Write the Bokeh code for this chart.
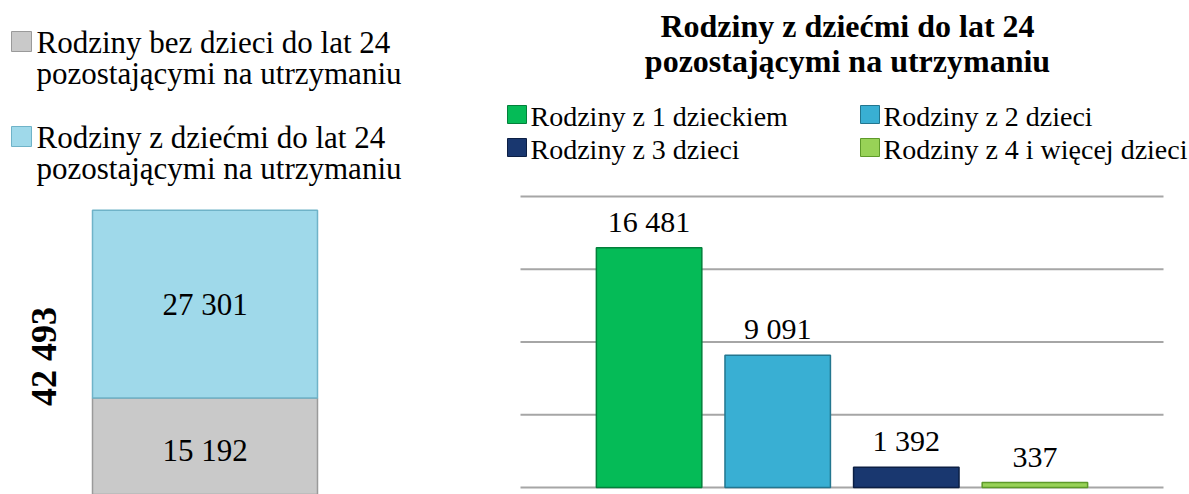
import math
from bokeh.plotting import figure
from bokeh.models import (ColumnDataSource, Range1d, LabelSet, Label,
                          BoxAnnotation)
from bokeh.layouts import row
from bokeh.embed import file_html
from bokeh.resources import INLINE

# ---------------- data ----------------
total_categories = ["Rodziny bez dzieci do lat 24\npozostającymi na utrzymaniu",
                    "Rodziny z dziećmi do lat 24\npozostającymi na utrzymaniu"]
total_values = [15192, 27301]
total_colors = ["#c9c9c9", "#9fd9ea"]
total_lines = ["#9a9a9a", "#6fb3c8"]

child_categories = ["Rodziny z 1 dzieckiem", "Rodziny z 2 dzieci",
                    "Rodziny z 3 dzieci", "Rodziny z 4 i więcej dzieci"]
child_values = [16481, 9091, 1392, 337]
child_colors = ["#05bb57", "#39afd3", "#19376f", "#98d257"]
child_lines = ["#03803b", "#23768f", "#0c1f44", "#5e9a2a"]

right_title = ["Rodziny z dziećmi do lat 24", "pozostającymi na utrzymaniu"]
grid_ticks = [0, 5000, 10000, 15000, 20000]


def fmt(v):
    return f"{v:,}".replace(",", " ")


FONT = "Liberation Serif"
W, H = 1189, 494


def text_center(baseline, size):
    # vertical centre of a text line whose alphabetic baseline is given
    return baseline - 0.3375 * size


def add_text(p, frame_left, x, baseline, text, size, align="left", bold=False):
    p.add_layout(Label(x=x - frame_left, y=H - text_center(baseline, size),
                       x_units="screen", y_units="screen", text=text,
                       text_align=align, text_baseline="middle",
                       text_font=FONT, text_font_size=f"{size}px",
                       text_font_style="bold" if bold else "normal",
                       text_color="black"))


def legend_entry(p, frame_left, sw_x, sw_y, sw_w, sw_h, color, line,
                 lines, text_x, base_y, line_gap, size):
    """Legend swatch + text; positions in page pixels (top-left origin)."""
    p.add_layout(BoxAnnotation(left=sw_x - frame_left, right=sw_x + sw_w - frame_left,
                               top=H - sw_y, bottom=H - sw_y - sw_h,
                               left_units="screen", right_units="screen",
                               top_units="screen", bottom_units="screen",
                               fill_color=color, fill_alpha=1.0,
                               line_color=line, line_alpha=1.0, line_width=1))
    for k, t in enumerate(lines):
        add_text(p, frame_left, text_x, base_y + k * line_gap, t, size)


# ---------------- left chart (stacked total) ----------------
LW = 470
bar_left_px, bar_right_px = 92, 317
bar_px = bar_right_px - bar_left_px
x0 = -0.5 - bar_left_px / bar_px
ppu_l = 187.7 / 27301.0
zero_l = 502.0

pl = figure(width=LW, height=H, output_backend="svg", toolbar_location=None,
            x_range=Range1d(x0, x0 + LW / bar_px),
            y_range=Range1d((zero_l - H) / ppu_l, zero_l / ppu_l),
            x_axis_location=None, y_axis_location=None,
            min_border=0, outline_line_color=None)
pl.grid.visible = False

bottoms, tops = [], []
acc = 0
for v in total_values:
    bottoms.append(acc)
    acc += v
    tops.append(acc)
total = acc

lsrc = ColumnDataSource(dict(x=[0] * len(total_values), bottom=bottoms, top=tops,
                             mid=[(b + t) / 2 for b, t in zip(bottoms, tops)],
                             txt=[fmt(v) for v in total_values],
                             color=total_colors, line=total_lines))
pl.vbar(x="x", width=1, bottom="bottom", top="top", source=lsrc,
        fill_color="color", line_color="line", line_width=1.5)

pl.add_layout(LabelSet(x="x", y="mid", text="txt", source=lsrc,
                       text_align="center", text_baseline="middle",
                       text_font=FONT, text_font_size="31px", text_color="black"))

pl.add_layout(Label(x=0, y=total / 2, x_offset=-161, text=fmt(total),
                    angle=math.pi / 2, text_align="center", text_baseline="middle",
                    text_font=FONT, text_font_size="36px", text_font_style="bold",
                    text_color="black"))

for i, cat in enumerate(total_categories):
    legend_entry(pl, 0, 11, 31 + i * 95, 20, 20, total_colors[i], total_lines[i],
                 cat.split("\n"), 36, 52 + i * 95, 31, 31)

# ---------------- right chart (children breakdown) ----------------
RW = W - LW
slot_px = (1163 - 520) / (len(child_values) + 1)
rx0 = -(520 - LW) / slot_px
zero_r = 487.0
ppu_r = (487.0 - 196.0) / 20000.0

pr = figure(width=RW, height=H, output_backend="svg", toolbar_location=None,
            x_range=Range1d(rx0, rx0 + RW / slot_px),
            y_range=Range1d(-(H - zero_r) / ppu_r, zero_r / ppu_r),
            x_axis_location=None, y_axis_location=None,
            min_border=0, outline_line_color=None)
pr.grid.visible = False

# horizontal gridlines across the category slots
gsrc = ColumnDataSource(dict(x0=[0] * len(grid_ticks),
                             x1=[len(child_values) + 1] * len(grid_ticks),
                             y=grid_ticks))
pr.segment(x0="x0", x1="x1", y0="y", y1="y", source=gsrc,
           line_color="#a6a6a6", line_width=2)

rsrc = ColumnDataSource(dict(x=[i + 1 for i in range(len(child_values))],
                             top=child_values, txt=[fmt(v) for v in child_values],
                             color=child_colors, line=child_lines))
pr.vbar(x="x", width=0.82, bottom=0, top="top", source=rsrc,
        fill_color="color", line_color="line", line_width=1.5)

pr.add_layout(LabelSet(x="x", y="top", text="txt", source=rsrc, y_offset=16,
                       text_align="center", text_baseline="alphabetic",
                       text_font=FONT, text_font_size="30px", text_color="black"))

for line_txt, yb in zip(right_title, [36.7, 71.7]):
    add_text(pr, LW, 847, yb, line_txt, 32, align="center", bold=True)

# legend: 2 columns x 2 rows (col 1: items 0, 2 ; col 2: items 1, 3)
col_x = [507, 860]
for i, cat in enumerate(child_categories):
    c, r = i % 2, i // 2
    legend_entry(pr, LW, col_x[c], 105 + r * 33, 19, 18, child_colors[i],
                 child_lines[i], [cat], col_x[c] + 23, 125 + r * 33, 0, 28)

layout = row(pl, pr)
open("out.html", "w").write(file_html(layout, INLINE))
